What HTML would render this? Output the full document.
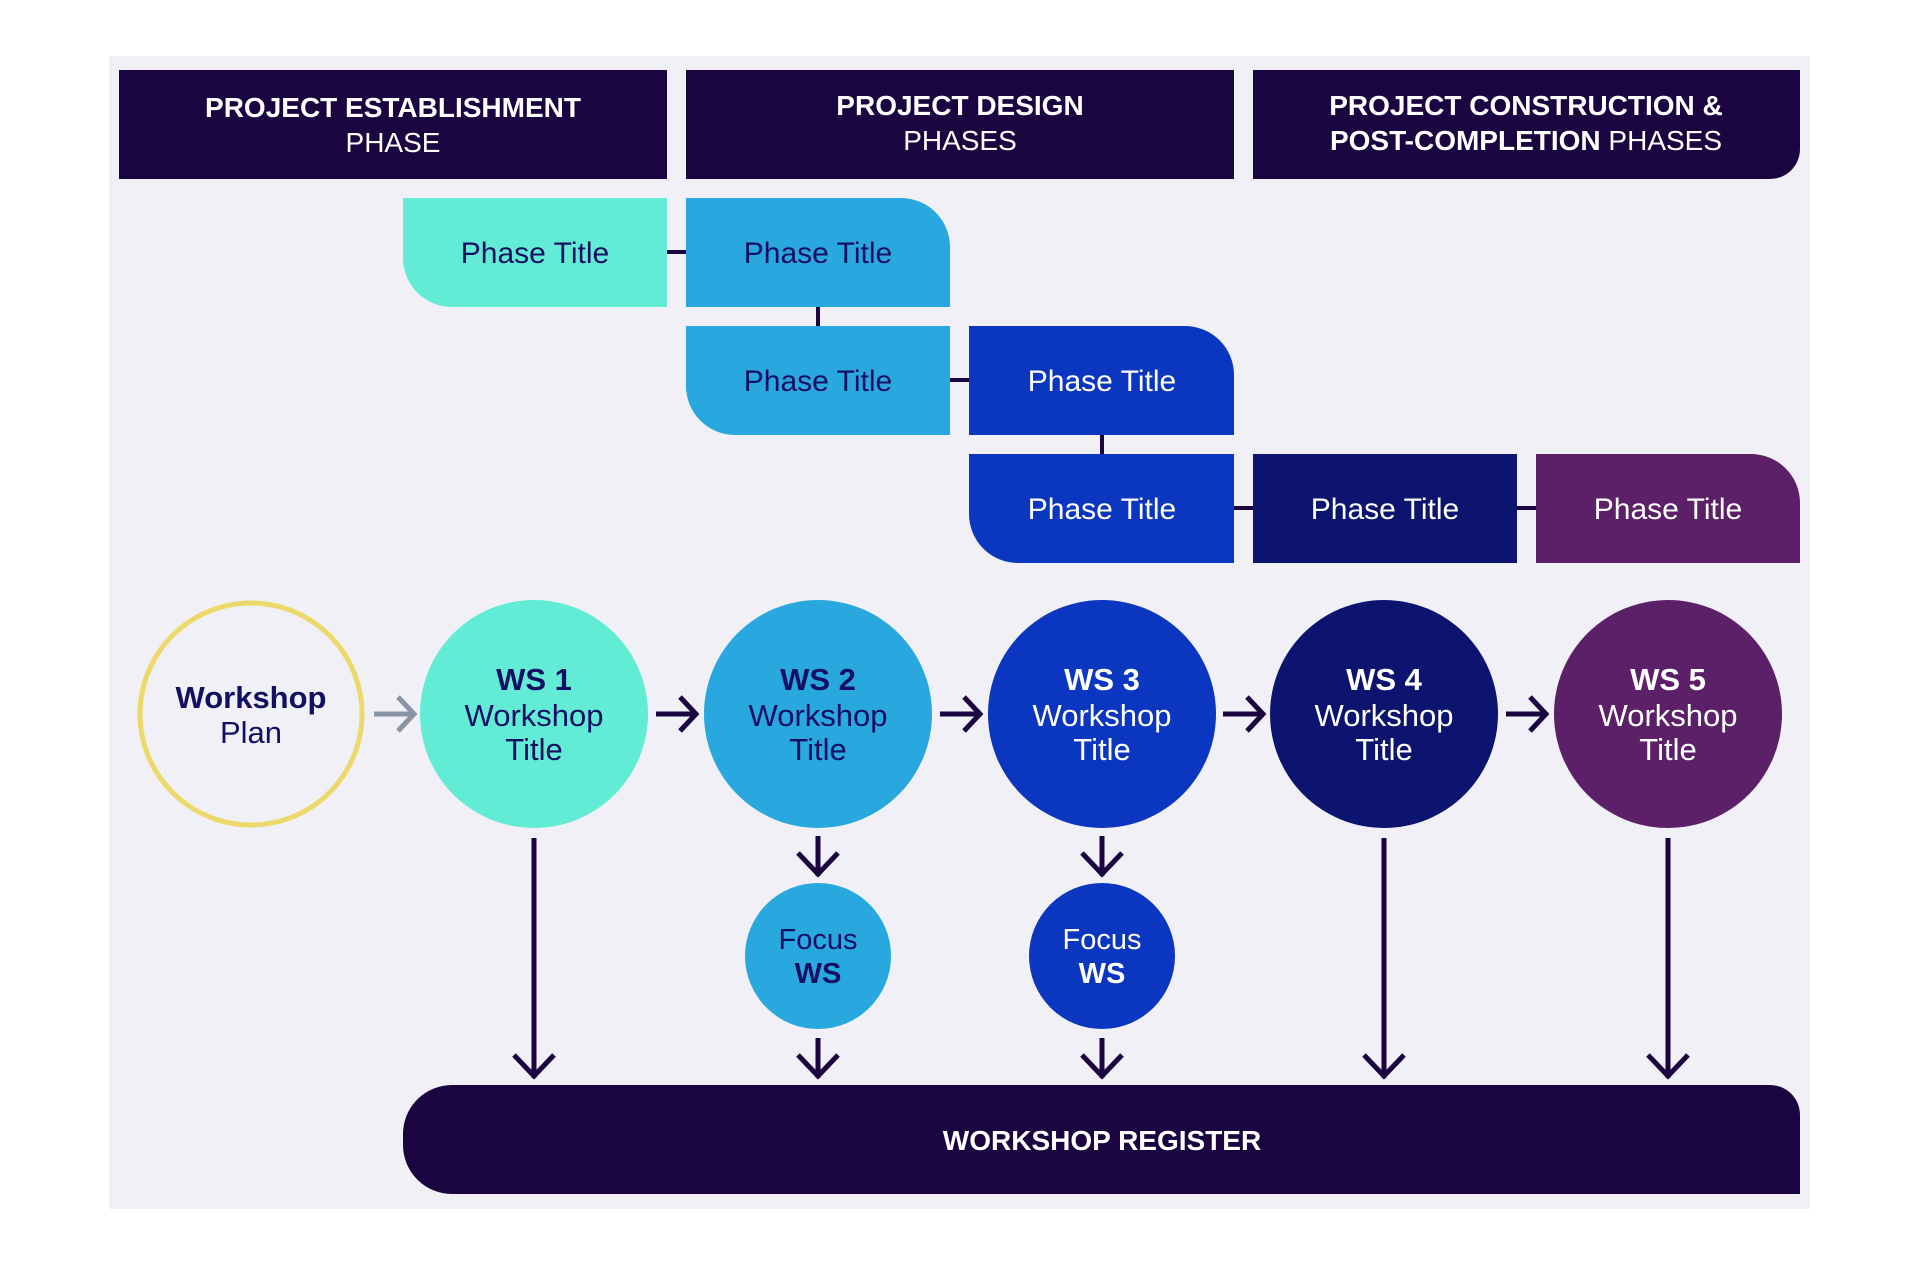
<!DOCTYPE html>
<html><head><meta charset="utf-8"><style>
html,body{margin:0;padding:0;background:#fff;}
svg{display:block;}
text{font-family:"Liberation Sans",sans-serif;}
</style></head><body>
<svg width="1920" height="1273" viewBox="0 0 1920 1273" xmlns="http://www.w3.org/2000/svg">
<rect x="0" y="0" width="1920" height="1273" fill="#ffffff"/>
<rect x="109" y="56" width="1701" height="1153" fill="#f0f0f6"/>
<!-- headers -->
<rect x="119" y="70" width="548" height="109" fill="#1a0540"/>
<rect x="686" y="70" width="548" height="109" fill="#1a0540"/>
<path d="M1253 70 H1800 V149 A30 30 0 0 1 1770 179 H1253 Z" fill="#1a0540"/>
<g fill="#fff" text-anchor="middle" font-size="28">
<text x="393" y="117" font-weight="bold">PROJECT ESTABLISHMENT</text>
<text x="393" y="152">PHASE</text>
<text x="960" y="115" font-weight="bold">PROJECT DESIGN</text>
<text x="960" y="150">PHASES</text>
<text x="1526" y="115" font-weight="bold">PROJECT CONSTRUCTION &amp;</text>
<text x="1526" y="150"><tspan font-weight="bold">POST-COMPLETION</tspan> PHASES</text>
</g>
<!-- connectors -->
<g stroke="#1a0540" stroke-width="4">
<line x1="667" y1="252" x2="686" y2="252"/>
<line x1="818" y1="307" x2="818" y2="326"/>
<line x1="950" y1="380" x2="969" y2="380"/>
<line x1="1102" y1="435" x2="1102" y2="454"/>
<line x1="1234" y1="508" x2="1253" y2="508"/>
<line x1="1517" y1="508" x2="1536" y2="508"/>
</g>
<!-- phase boxes -->
<path d="M403 198 H667 V307 H452 A49 49 0 0 1 403 258 Z" fill="#62ecd5"/>
<path d="M686 198 H901 A49 49 0 0 1 950 247 V307 H686 Z" fill="#29a8e0"/>
<path d="M686 326 H950 V435 H735 A49 49 0 0 1 686 386 Z" fill="#29a8e0"/>
<path d="M969 326 H1185 A49 49 0 0 1 1234 375 V435 H969 Z" fill="#0a36c0"/>
<path d="M969 454 H1234 V563 H1018 A49 49 0 0 1 969 514 Z" fill="#0a36c0"/>
<rect x="1253" y="454" width="264" height="109" fill="#0c1470"/>
<path d="M1536 454 H1751 A49 49 0 0 1 1800 503 V563 H1536 Z" fill="#5c2068"/>
<g text-anchor="middle" font-size="30">
<text x="535" y="263" fill="#131063">Phase Title</text>
<text x="818" y="263" fill="#131063">Phase Title</text>
<text x="818" y="391" fill="#131063">Phase Title</text>
<text x="1102" y="391" fill="#fff">Phase Title</text>
<text x="1102" y="519" fill="#fff">Phase Title</text>
<text x="1385" y="519" fill="#fff">Phase Title</text>
<text x="1668" y="519" fill="#fff">Phase Title</text>
</g>
<!-- circles -->
<circle cx="251" cy="714" r="111" fill="none" stroke="#ecd96a" stroke-width="5"/>
<circle cx="534" cy="714" r="114" fill="#62ecd5"/>
<circle cx="818" cy="714" r="114" fill="#29a8e0"/>
<circle cx="1102" cy="714" r="114" fill="#0a36c0"/>
<circle cx="1384" cy="714" r="114" fill="#0c1470"/>
<circle cx="1668" cy="714" r="114" fill="#5c2068"/>
<circle cx="818" cy="956" r="73" fill="#29a8e0"/>
<circle cx="1102" cy="956" r="73" fill="#0a36c0"/>
<g text-anchor="middle" font-size="31">
<text x="251" y="708" fill="#131063" font-weight="bold">Workshop</text>
<text x="251" y="743" fill="#131063">Plan</text>
<text x="534" y="690" fill="#131063" font-weight="bold">WS 1</text>
<text x="534" y="726" fill="#131063">Workshop</text>
<text x="534" y="760" fill="#131063">Title</text>
<text x="818" y="690" fill="#131063" font-weight="bold">WS 2</text>
<text x="818" y="726" fill="#131063">Workshop</text>
<text x="818" y="760" fill="#131063">Title</text>
<text x="1102" y="690" fill="#fff" font-weight="bold">WS 3</text>
<text x="1102" y="726" fill="#fff">Workshop</text>
<text x="1102" y="760" fill="#fff">Title</text>
<text x="1384" y="690" fill="#fff" font-weight="bold">WS 4</text>
<text x="1384" y="726" fill="#fff">Workshop</text>
<text x="1384" y="760" fill="#fff">Title</text>
<text x="1668" y="690" fill="#fff" font-weight="bold">WS 5</text>
<text x="1668" y="726" fill="#fff">Workshop</text>
<text x="1668" y="760" fill="#fff">Title</text>
</g>
<g text-anchor="middle" font-size="29">
<text x="818" y="949" fill="#131063">Focus</text>
<text x="818" y="983" fill="#131063" font-weight="bold">WS</text>
<text x="1102" y="949" fill="#fff">Focus</text>
<text x="1102" y="983" fill="#fff" font-weight="bold">WS</text>
</g>
<!-- arrows -->
<g fill="none" stroke-width="5" stroke-linecap="butt">
<g stroke="#8a94a6"><line x1="374" y1="714" x2="414" y2="714"/><polyline points="398,697 414,714 398,731"/></g>
<g stroke="#1a0540">
<line x1="656" y1="714" x2="696" y2="714"/><polyline points="680,697 696,714 680,731"/>
<line x1="940" y1="714" x2="980" y2="714"/><polyline points="964,697 980,714 964,731"/>
<line x1="1223" y1="714" x2="1263" y2="714"/><polyline points="1247,697 1263,714 1247,731"/>
<line x1="1506" y1="714" x2="1546" y2="714"/><polyline points="1530,697 1546,714 1530,731"/>
<line x1="818" y1="836" x2="818" y2="876"/><polyline points="798,853 818,874 838,853"/>
<line x1="1102" y1="836" x2="1102" y2="876"/><polyline points="1082,853 1102,874 1122,853"/>
<line x1="818" y1="1038" x2="818" y2="1078"/><polyline points="798,1055 818,1076 838,1055"/>
<line x1="1102" y1="1038" x2="1102" y2="1078"/><polyline points="1082,1055 1102,1076 1122,1055"/>
<line x1="534" y1="838" x2="534" y2="1078"/><polyline points="514,1055 534,1076 554,1055"/>
<line x1="1384" y1="838" x2="1384" y2="1078"/><polyline points="1364,1055 1384,1076 1404,1055"/>
<line x1="1668" y1="838" x2="1668" y2="1078"/><polyline points="1648,1055 1668,1076 1688,1055"/>
</g>
</g>
<!-- register -->
<path d="M452 1085 H1770 A30 30 0 0 1 1800 1115 V1194 H452 A49 49 0 0 1 403 1145 V1134 A49 49 0 0 1 452 1085 Z" fill="#1a0540"/>
<text x="1102" y="1150" fill="#fff" font-size="28" font-weight="bold" text-anchor="middle">WORKSHOP REGISTER</text>
</svg>
</body></html>
